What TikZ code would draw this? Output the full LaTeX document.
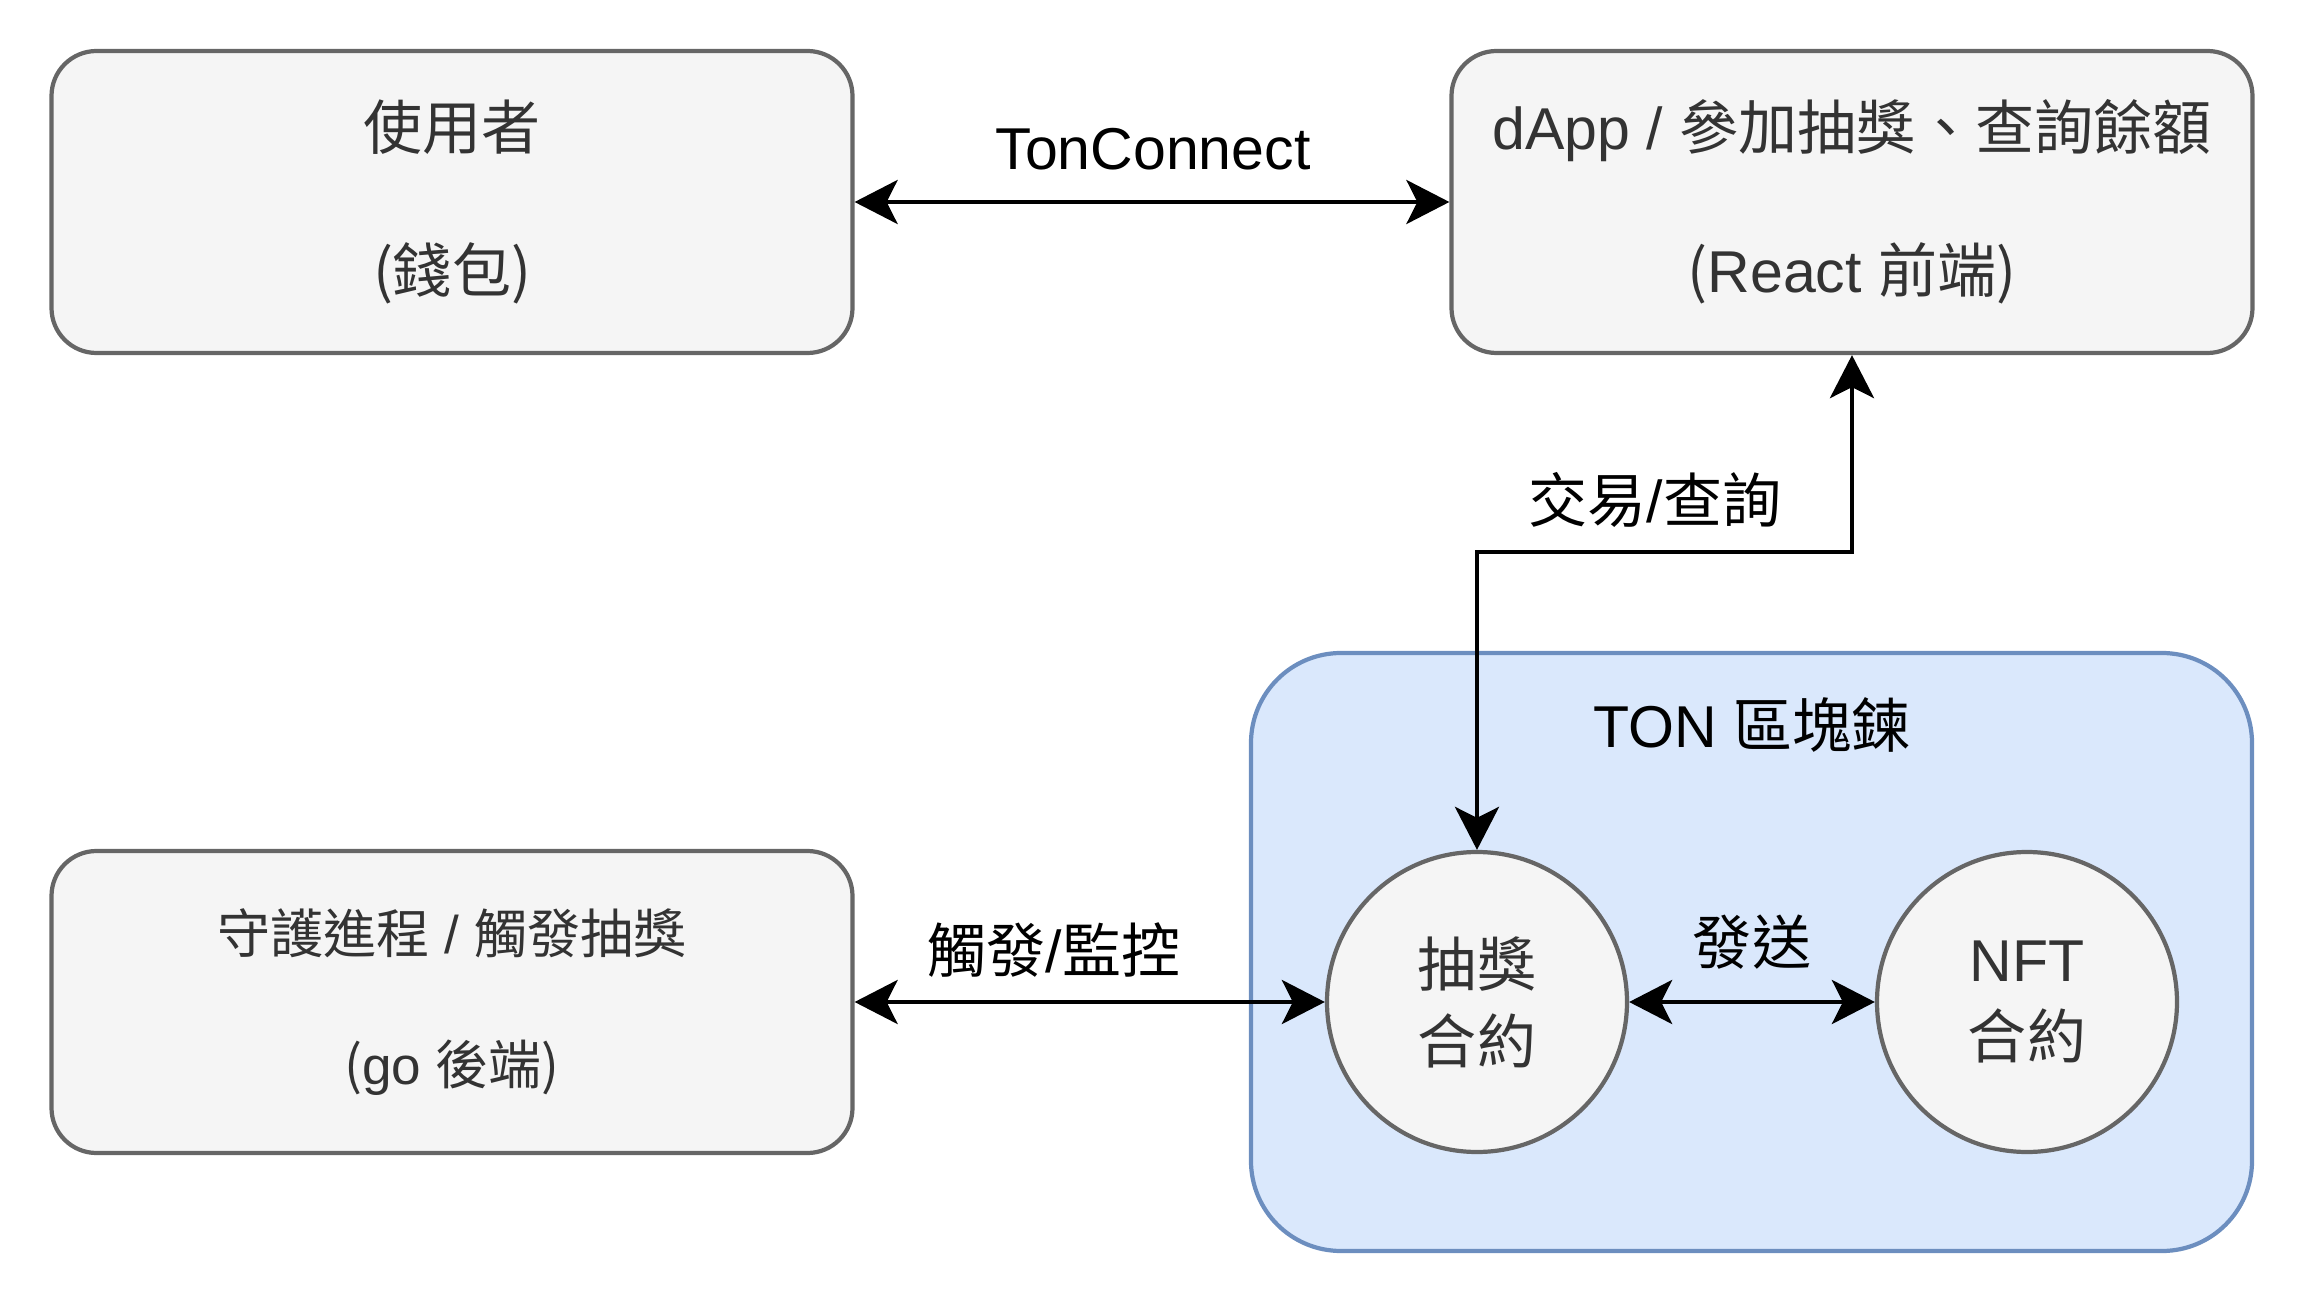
\documentclass[tikz,border=0pt]{standalone}
\usepackage{fontspec}
\setmainfont{Liberation Sans}
\newfontfamily\cjk{Noto Sans CJK TC}
\newcommand{\zh}[1]{{\cjk #1}}
\usetikzlibrary{arrows.meta}

\definecolor{boxfill}{HTML}{F5F5F5}
\definecolor{boxline}{HTML}{666666}
\definecolor{boxtext}{HTML}{333333}
\definecolor{tonfill}{HTML}{DAE8FC}
\definecolor{tonline}{HTML}{6C8EBF}

\newcommand{\diagfont}{\fontsize{16.8pt}{20.2pt}\selectfont}
\newcommand{\smallfont}{\fontsize{15.1pt}{18.1pt}\selectfont}

\tikzset{
  box/.style={draw=boxline, fill=boxfill, line width=1.2pt, rounded corners=0.45cm,
    minimum width=8.01cm, minimum height=3.02cm, align=center, text=boxtext, font=\diagfont},
  contract/.style={circle, draw=boxline, fill=boxfill, line width=1.2pt,
    minimum size=3.0cm, align=center, text=boxtext, font=\diagfont},
  tonbox/.style={draw=tonline, fill=tonfill, line width=1.2pt, rounded corners=0.9cm,
    minimum width=10.01cm, minimum height=5.98cm},
  lbl/.style={font=\diagfont, text=black, inner sep=0pt},
  link/.style={line width=1.3pt,
    {Stealth[length=0.43cm, width=0.44cm, inset=0.11cm]}-{Stealth[length=0.43cm, width=0.44cm, inset=0.11cm]}}
}

\begin{document}
\begin{tikzpicture}
    \useasboundingbox (0,0) rectangle (23.05,-13.05);

    % blocco TON
    \node[tonbox] (ton) at (17.515,-9.52) {};
    \node[lbl] (tonlabel) at (17.52,-7.25) {TON \zh{區塊鍊}};

    % riquadri
    \node[box] (user) at (4.52,-2.02) {\zh{使用者}\\[20.5pt]\zh{(錢包)}};
    \node[box] (dapp) at (18.52,-2.02) {dApp / \zh{參加抽獎、查詢餘額}\\[20.5pt]\zh{(}React \zh{前端)}};
    \node[box, font=\smallfont] (daemon) at (4.52,-10.02) {\zh{守護進程} / \zh{觸發抽獎}\\[19.3pt]\zh{(}go \zh{後端)}};

    % contratti
    \node[contract] (lottery) at (14.77,-10.02) {\zh{抽獎}\\[1.7pt]\zh{合約}};
    \node[contract] (nft) at (20.27,-10.02) {NFT\\[1.7pt]\zh{合約}};

    % collegamenti
    \coordinate (bend) at (16.6,-5.52);
    \draw[link] (user) -- (dapp);
    \draw[link] (lottery.north) |- (bend) -| (dapp.south);
    \draw[link] (daemon) -- (lottery);
    \draw[link] (lottery) -- (nft);

    % etichette
    \node[lbl] (tonconnect) at (11.53,-1.49) {TonConnect};
    \node[lbl] (txquery) at (16.55,-5.0) {\zh{交易}/\zh{查詢}};
    \node[lbl] (trigger) at (10.54,-9.5) {\zh{觸發}/\zh{監控}};
    \node[lbl] (send) at (17.52,-9.42) {\zh{發送}};
\end{tikzpicture}
\end{document}
